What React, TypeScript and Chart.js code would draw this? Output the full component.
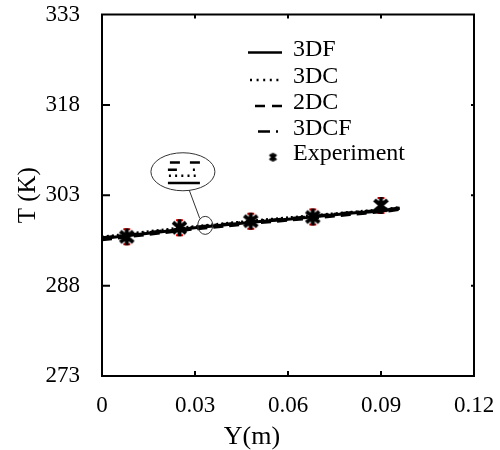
import React, { useEffect, useRef } from 'react';
import { Chart, registerables } from 'chart.js';

Chart.register(...registerables);

// ---- data ----
const LINE_Y = [0, 0.01, 0.02, 0.03, 0.04, 0.05, 0.06, 0.07, 0.08, 0.09, 0.096];
const T_3DF = [295.8, 296.4, 297.0, 297.6, 298.1, 298.6, 299.0, 299.5, 300.0, 300.4, 300.8];
const T_3DC = [296.05, 296.65, 297.25, 297.8, 298.3, 298.8, 299.25, 299.7, 300.15, 300.6, 300.95];
const T_2DC = [295.6, 296.2, 296.8, 297.4, 297.9, 298.4, 298.85, 299.3, 299.8, 300.25, 300.65];
const T_3DCF = [295.95, 296.5, 297.1, 297.7, 298.2, 298.7, 299.1, 299.6, 300.1, 300.5, 300.9];
const EXP_Y = [0.008, 0.025, 0.048, 0.068, 0.09];
const EXP_T = [296.1, 297.6, 298.7, 299.4, 301.3];
const EXP_ERR = [1.25, 1.25, 1.25, 1.25, 1.25];

const SERIES_LABELS = ['3DF', '3DC', '2DC', '3DCF', 'Experiment'];
const X_TICK_LABELS = ['0', '0.03', '0.06', '0.09', '0.12'];
const Y_TICK_LABELS = ['273', '288', '303', '318', '333'];
const X_TITLE = 'Y(m)';
const Y_TITLE = 'T (K)';

// annotation anchors (data coordinates)
const CALLOUT_AT = [0.0261, 306.9];
const ZOOM_AT = [0.0333, 298.0];

const FONT = "'Liberation Serif', 'Times New Roman', serif";

const DASHES: number[][] = [[], [2, 3], [10, 6], [12, 5, 2, 5]];
const LEGEND_DASHES: number[][] = [[], [2, 4.6], [10, 7], [12, 6, 2, 20]];

function makeAsterisk(r: number, lw: number, deg: number): HTMLCanvasElement {
  const size = Math.ceil(2 * r + lw + 2);
  const c = document.createElement('canvas');
  c.width = size;
  c.height = size;
  const ctx = c.getContext('2d')!;
  ctx.strokeStyle = '#000';
  ctx.lineWidth = lw;
  const cx = size / 2, cy = size / 2;
  const a = (deg * Math.PI) / 180;
  const dx = r * Math.sin(a), dy = r * Math.cos(a);
  ctx.beginPath();
  ctx.moveTo(cx, cy - r);
  ctx.lineTo(cx, cy + r);
  ctx.moveTo(cx - dx, cy - dy);
  ctx.lineTo(cx + dx, cy + dy);
  ctx.moveTo(cx + dx, cy - dy);
  ctx.lineTo(cx - dx, cy + dy);
  ctx.stroke();
  return c;
}

const decorPlugin = {
  id: 'decor',
  beforeDatasetDraw(chart: any, args: any) {
    if (args.index !== 4) return;
    const { ctx, scales } = chart;
    const xs = scales.x, ys = scales.y;
    ctx.save();
    ctx.strokeStyle = '#ff0000';
    ctx.lineWidth = 2;
    EXP_Y.forEach((xv, i) => {
      const px = xs.getPixelForValue(xv);
      const top = ys.getPixelForValue(EXP_T[i] + EXP_ERR[i]);
      const bot = ys.getPixelForValue(EXP_T[i] - EXP_ERR[i]);
      ctx.beginPath();
      ctx.moveTo(px, top);
      ctx.lineTo(px, bot);
      ctx.moveTo(px - 3.5, top);
      ctx.lineTo(px + 3.5, top);
      ctx.moveTo(px - 3.5, bot);
      ctx.lineTo(px + 3.5, bot);
      ctx.stroke();
    });
    ctx.restore();
  },
  afterDraw(chart: any) {
    const { ctx, chartArea: ca, scales } = chart;
    const xs = scales.x, ys = scales.y;
    ctx.save();
    // frame
    ctx.strokeStyle = '#000';
    ctx.lineWidth = 2;
    ctx.setLineDash([]);
    ctx.strokeRect(ca.left, ca.top, ca.right - ca.left, ca.bottom - ca.top);
    // inward ticks
    ctx.beginPath();
    xs.ticks.forEach((t: any, i: number) => {
      if (i === 0 || i === xs.ticks.length - 1) return;
      const px = xs.getPixelForValue(t.value);
      ctx.moveTo(px, ca.bottom);
      ctx.lineTo(px, ca.bottom - 5);
      ctx.moveTo(px, ca.top);
      ctx.lineTo(px, ca.top + 4);
    });
    ys.ticks.forEach((t: any, i: number) => {
      if (i === 0 || i === ys.ticks.length - 1) return;
      const py = ys.getPixelForValue(t.value);
      ctx.moveTo(ca.left, py);
      ctx.lineTo(ca.left + 8, py);
      ctx.moveTo(ca.right, py);
      ctx.lineTo(ca.right - 3, py);
    });
    ctx.stroke();

    // axis titles
    ctx.fillStyle = '#000';
    ctx.textAlign = 'center';
    ctx.textBaseline = 'middle';
    ctx.font = `26px ${FONT}`;
    ctx.fillText(X_TITLE, ca.left + 150, 437);
    ctx.font = `25px ${FONT}`;
    ctx.save();
    ctx.translate(28, (ca.top + ca.bottom) / 2);
    ctx.rotate(-Math.PI / 2);
    ctx.fillText(Y_TITLE, 0, 0);
    ctx.restore();

    // legend
    const lx0 = ca.right - 226, lx1 = ca.right - 192, tx = ca.right - 181;
    const rows = [35, 62.5, 88.5, 114, 139.7];
    ctx.font = `24px ${FONT}`;
    ctx.textAlign = 'left';
    SERIES_LABELS.forEach((lab, i) => {
      const y = ca.top + rows[i];
      ctx.fillStyle = '#000';
      ctx.fillText(lab, tx, y);
      if (i < 4) {
        ctx.save();
        ctx.strokeStyle = '#000';
        ctx.lineWidth = 2.5;
        ctx.setLineDash(LEGEND_DASHES[i]);
        ctx.beginPath();
        const s = i === 2 ? lx0 + 7 : i === 3 ? lx0 + 10 : i === 1 ? lx0 + 2 : lx0;
        ctx.moveTo(s, y + 3);
        ctx.lineTo(lx1, y + 3);
        ctx.stroke();
        ctx.restore();
      } else {
        const m = makeAsterisk(4.2, 2.6, 50);
        ctx.drawImage(m, ca.right - 201 - m.width / 2, y + 3 - m.height / 2);
      }
    });

    // callout
    const cx = xs.getPixelForValue(CALLOUT_AT[0]);
    const cy = ys.getPixelForValue(CALLOUT_AT[1]);
    const zx = xs.getPixelForValue(ZOOM_AT[0]);
    const zy = ys.getPixelForValue(ZOOM_AT[1]);
    ctx.strokeStyle = '#333';
    ctx.lineWidth = 1;
    ctx.setLineDash([]);
    ctx.fillStyle = '#fff';
    ctx.beginPath();
    ctx.ellipse(cx, cy, 32, 19, 0, 0, Math.PI * 2);
    ctx.fill();
    ctx.stroke();
    ctx.beginPath();
    ctx.ellipse(zx, zy, 7.5, 9, 0, 0, Math.PI * 2);
    ctx.stroke();
    ctx.beginPath();
    ctx.moveTo(cx + 6.3, cy + 18.3);
    ctx.lineTo(zx - 5.5, zy - 7);
    ctx.stroke();
    // zoomed line styles inside the callout
    ctx.strokeStyle = '#000';
    ctx.lineWidth = 2.5;
    ctx.beginPath();
    ctx.moveTo(cx - 13, cy - 9.3); ctx.lineTo(cx - 3, cy - 9.3);
    ctx.moveTo(cx + 7, cy - 9.3); ctx.lineTo(cx + 17, cy - 9.3);
    ctx.moveTo(cx - 15, cy - 2); ctx.lineTo(cx - 6, cy - 2);
    ctx.moveTo(cx + 10, cy - 2); ctx.lineTo(cx + 12, cy - 2);
    ctx.moveTo(cx - 15, cy + 11.3); ctx.lineTo(cx + 17, cy + 11.3);
    ctx.stroke();
    ctx.setLineDash([2, 4.2]);
    ctx.beginPath();
    ctx.moveTo(cx - 14, cy + 4); ctx.lineTo(cx + 17, cy + 4);
    ctx.stroke();
    ctx.restore();
  },
};

export default function App() {
  const ref = useRef<HTMLCanvasElement | null>(null);

  useEffect(() => {
    if (!ref.current) return;
    const marker = makeAsterisk(8.5, 4, 50);
    const lineSets = [T_3DF, T_3DC, T_2DC, T_3DCF];
    const datasets: any[] = lineSets.map((arr, i) => ({
      label: SERIES_LABELS[i],
      type: 'line',
      data: LINE_Y.map((x, j) => ({ x, y: arr[j] })),
      borderColor: '#000',
      borderWidth: 3,
      borderDash: DASHES[i],
      pointRadius: 0,
      fill: false,
      tension: 0.3,
    }));
    datasets.push({
      label: SERIES_LABELS[4],
      type: 'scatter',
      data: EXP_Y.map((x, j) => ({ x, y: EXP_T[j] })),
      pointStyle: marker,
      pointRadius: 9,
      showLine: false,
    });

    const fixScale = (w?: number, h?: number) => (scale: any) => {
      if (w !== undefined) scale.width = w;
      if (h !== undefined) scale.height = h;
      scale.paddingTop = 0;
      scale.paddingBottom = 0;
      scale.paddingLeft = 0;
      scale.paddingRight = 0;
    };

    const chart = new Chart(ref.current, {
      type: 'scatter',
      data: { datasets },
      plugins: [decorPlugin],
      options: {
        animation: false,
        responsive: false,
        maintainAspectRatio: false,
        layout: { padding: { left: 0, right: 26, top: 14.5, bottom: 0 }, autoPadding: false },
        plugins: { legend: { display: false }, tooltip: { enabled: false } },
        scales: {
          x: {
            type: 'linear',
            min: 0,
            max: 0.12,
            grid: { display: false, drawTicks: false },
            border: { display: false },
            afterFit: fixScale(undefined, 74),
            ticks: {
              stepSize: 0.03,
              padding: 16,
              color: '#000',
              font: { family: FONT, size: 23 },
              maxRotation: 0,
              callback: (_v: any, i: number) => X_TICK_LABELS[i],
            },
          },
          y: {
            type: 'linear',
            min: 273,
            max: 333,
            grid: { display: false, drawTicks: false },
            border: { display: false },
            afterFit: fixScale(102, undefined),
            ticks: {
              stepSize: 15,
              padding: 22,
              color: '#000',
              font: { family: FONT, size: 23 },
              callback: (_v: any, i: number) => Y_TICK_LABELS[i],
            },
          },
        },
      } as any,
    });
    return () => chart.destroy();
  }, []);

  return (
    <div style={{ position: 'fixed', left: 0, top: 0, width: 500, height: 450, background: '#fff' }}>
      <canvas ref={ref} width={500} height={450} style={{ width: 500, height: 450 }} />
    </div>
  );
}
